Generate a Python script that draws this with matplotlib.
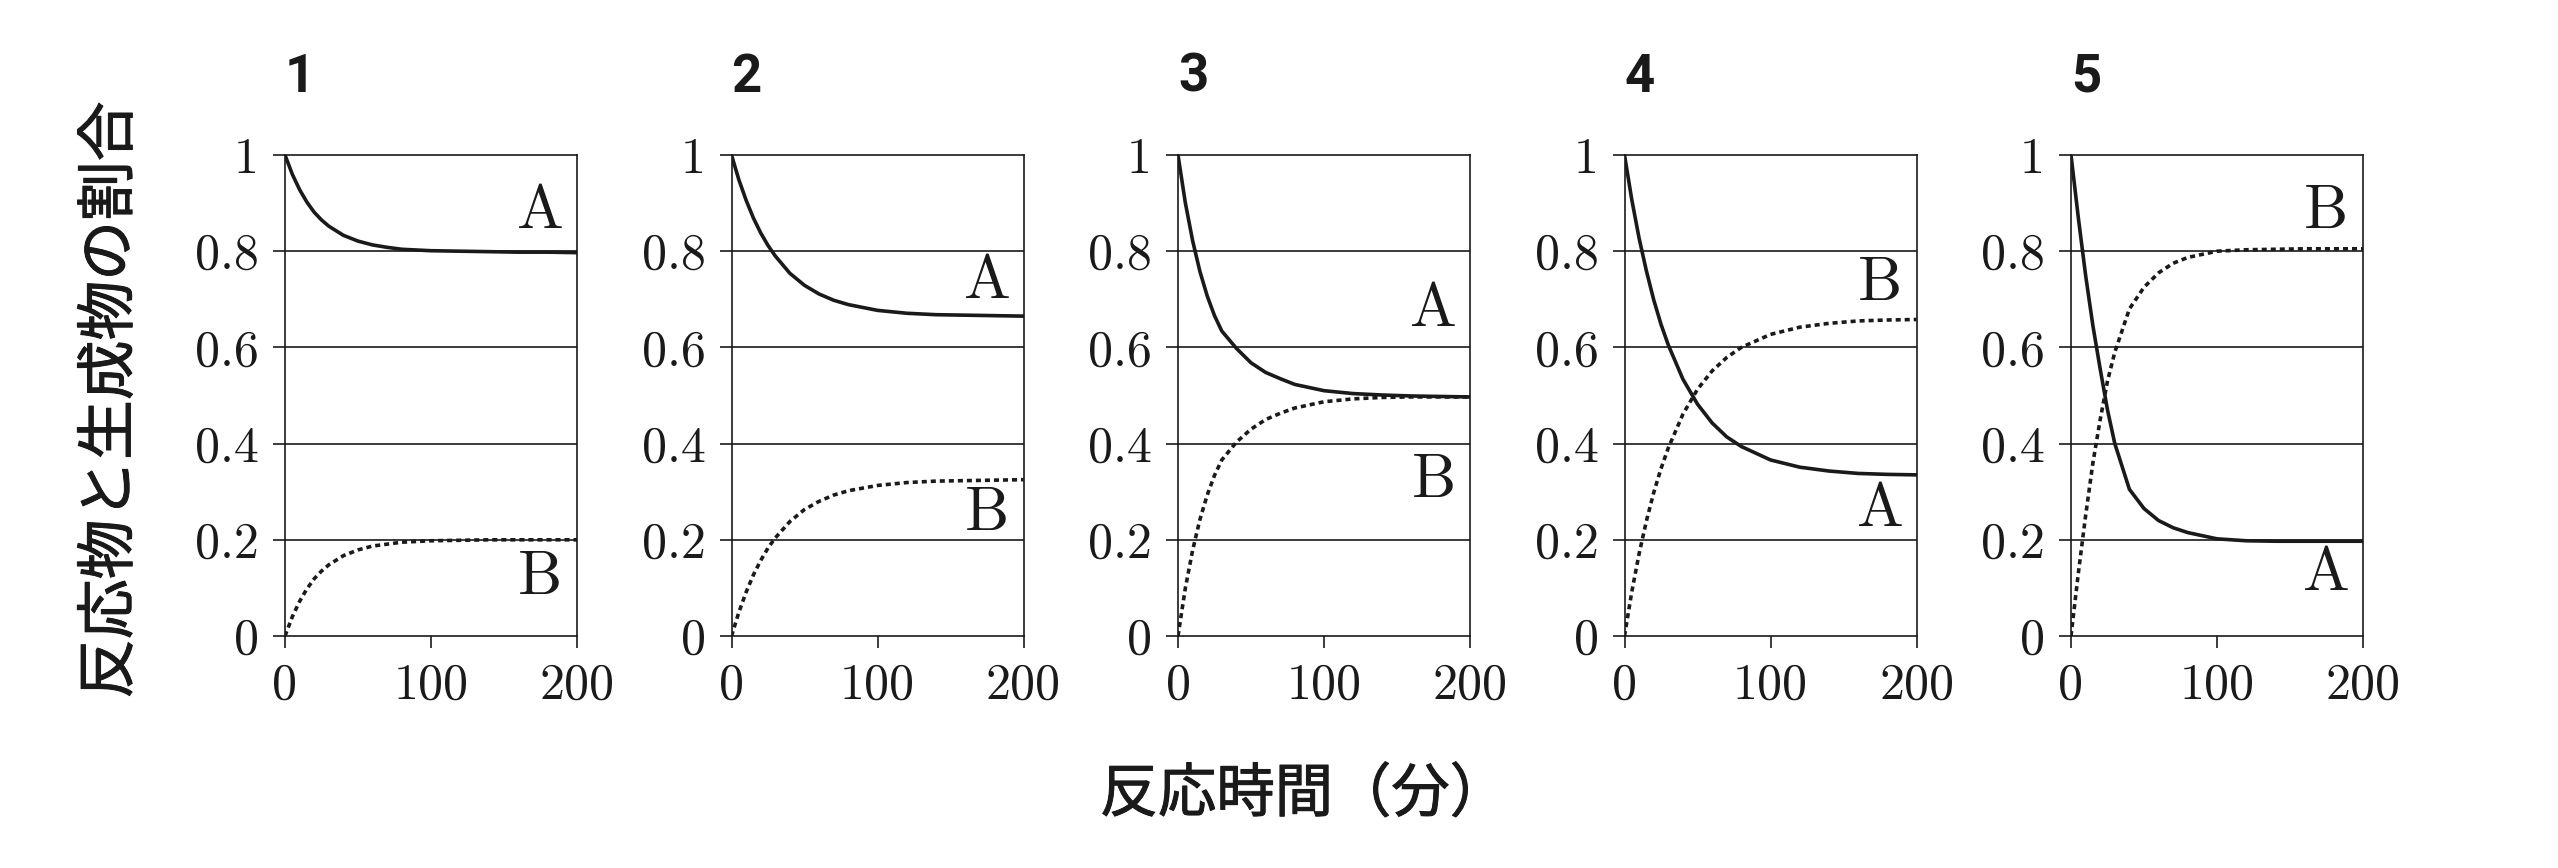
import matplotlib
matplotlib.use("Agg")
import matplotlib.pyplot as plt
import matplotlib.patheffects as pe

# ---- data ----
panels = ["1", "2", "3", "4", "5"]
t = [0, 5, 10, 15, 20, 25, 30, 40, 50, 60, 70, 80, 100, 120, 140, 160, 180, 200]

A1 = [1.0, 0.960, 0.928, 0.902, 0.881, 0.865, 0.852, 0.833, 0.821, 0.813, 0.808, 0.804, 0.801, 0.800, 0.799, 0.798, 0.798, 0.797]
B1 = [0.0, 0.040, 0.072, 0.098, 0.119, 0.135, 0.148, 0.167, 0.179, 0.187, 0.191, 0.195, 0.198, 0.199, 0.200, 0.200, 0.200, 0.200]

A2 = [1.0, 0.949, 0.906, 0.869, 0.838, 0.812, 0.790, 0.754, 0.729, 0.711, 0.698, 0.689, 0.677, 0.671, 0.668, 0.667, 0.666, 0.665]
B2 = [0.0, 0.049, 0.091, 0.127, 0.157, 0.183, 0.204, 0.238, 0.263, 0.280, 0.293, 0.302, 0.313, 0.319, 0.322, 0.323, 0.324, 0.325]

A3 = [1.0, 0.901, 0.822, 0.758, 0.707, 0.666, 0.634, 0.598, 0.568, 0.548, 0.535, 0.523, 0.510, 0.504, 0.501, 0.499, 0.498, 0.497]
B3 = [0.0, 0.099, 0.178, 0.242, 0.293, 0.334, 0.366, 0.403, 0.430, 0.450, 0.463, 0.474, 0.487, 0.493, 0.496, 0.497, 0.497, 0.497]

A4 = [1.0, 0.907, 0.827, 0.759, 0.699, 0.648, 0.605, 0.534, 0.482, 0.443, 0.414, 0.394, 0.366, 0.351, 0.343, 0.338, 0.336, 0.335]
B4 = [0.0, 0.092, 0.171, 0.239, 0.298, 0.348, 0.391, 0.461, 0.513, 0.551, 0.579, 0.600, 0.627, 0.642, 0.650, 0.655, 0.657, 0.658]

A5 = [1.0, 0.870, 0.750, 0.645, 0.555, 0.470, 0.400, 0.305, 0.265, 0.240, 0.225, 0.215, 0.202, 0.198, 0.197, 0.197, 0.197, 0.197]
B5 = [0.0, 0.130, 0.250, 0.360, 0.450, 0.530, 0.590, 0.680, 0.725, 0.755, 0.775, 0.787, 0.800, 0.803, 0.804, 0.805, 0.805, 0.805]

A_series = [A1, A2, A3, A4, A5]
B_series = [B1, B2, B3, B4, B5]

x_ticks = [0, 100, 200]
x_ticklabels = ["0", "100", "200"]
y_ticks = [0, 0.2, 0.4, 0.6, 0.8, 1.0]
y_ticklabels = ["0", "0.2", "0.4", "0.6", "0.8", "1"]

ylabel_text = "反応物と生成物の割合"
xlabel_text = "反応時間（分）"

# label placement (data coords) for the "A"/"B" curve tags
label_x = 175
A_label_y = [0.88, 0.735, 0.678, 0.261, 0.129]
B_label_y = [0.12, 0.254, 0.322, 0.732, 0.88]

# ---- figure ----
W, H = 2558, 868
fig = plt.figure(figsize=(W / 100, H / 100), dpi=100)
fig.patch.set_facecolor("white")

serif = ["cmr10", "DejaVu Serif"]
cjk = ["Noto Sans CJK JP", "DejaVu Sans"]
title_font = ["Roboto", "DejaVu Sans"]

ax_left0 = 285 / W
ax_w = 292 / W
ax_step = 446.5 / W
ax_bottom = 1 - 636 / H
ax_h = (636 - 155) / H

ink = "#1a1a1a"
thicken = [pe.withStroke(linewidth=0.7, foreground=ink)]

for i, name in enumerate(panels):
    ax = fig.add_axes([ax_left0 + i * ax_step, ax_bottom, ax_w, ax_h])
    ax.set_xlim(0, 200)
    ax.set_ylim(0, 1)
    for g in [0.2, 0.4, 0.6, 0.8]:
        ax.axhline(g, color=ink, lw=1.2, zorder=1)
    ax.plot(t, A_series[i], color=ink, lw=2.6, solid_joinstyle="round", zorder=3)
    ax.plot(t, B_series[i], color=ink, lw=2.6, linestyle=(0, (1.4, 1.1)), zorder=3)
    for s in ax.spines.values():
        s.set_color(ink)
        s.set_linewidth(1.2)
    ax.set_xticks(x_ticks)
    ax.set_xticklabels(x_ticklabels, fontfamily=serif, fontsize=36)
    ax.set_yticks(y_ticks)
    ax.set_yticklabels(y_ticklabels, fontfamily=serif, fontsize=36)
    ax.tick_params(axis="both", direction="out", length=8.6, width=1.2, color=ink, labelcolor=ink)
    ax.tick_params(axis="y", pad=10)
    ax.tick_params(axis="x", pad=11)
    ax.text(label_x, A_label_y[i], "A", fontfamily=serif, fontsize=45, color=ink,
            ha="center", va="center", zorder=4)
    ax.text(label_x, B_label_y[i], "B", fontfamily=serif, fontsize=45, color=ink,
            ha="center", va="center", zorder=4)
    fig.text(ax_left0 + i * ax_step + 15 / W, 1 - 77 / H, name, fontfamily=title_font,
             fontweight="bold", fontsize=38, color=ink, ha="center", va="center")

fig.text(111 / W, 1 - 400 / H, ylabel_text, family=cjk, fontsize=43, rotation=90,
         fontweight="normal", ha="center", va="center", color=ink, path_effects=thicken)
fig.text(1304 / W, 1 - 795 / H, xlabel_text, family=cjk, fontsize=42,
         fontweight="normal", ha="center", va="center", color=ink, path_effects=thicken)

fig.savefig("out.png", dpi=100, facecolor="white")
